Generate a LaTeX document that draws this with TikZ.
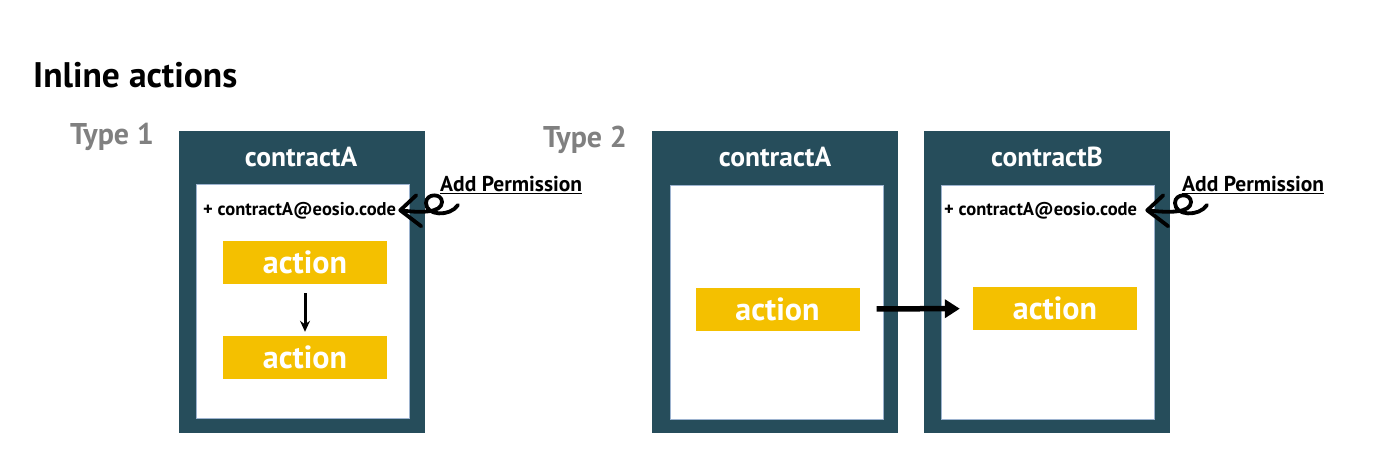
\documentclass[tikz,border=0pt]{standalone}
\usepackage{fontspec}
\setmainfont{PT Sans}
\usetikzlibrary{arrows.meta}
\definecolor{teal}{HTML}{264D5B}
\definecolor{gold}{HTML}{F4C000}
\definecolor{edgeblue}{HTML}{9DB3CF}
\definecolor{typegray}{HTML}{808080}
\begin{document}
\begin{tikzpicture}[x=1pt,y=-1pt,
  outerbox/.style={draw=none,fill=teal,minimum width=246pt,minimum height=302pt,inner sep=0pt},
  innerbox/.style={draw=edgeblue,line width=1pt,fill=white,minimum width=213pt,minimum height=234pt,inner sep=0pt},
  actbox/.style={fill=gold,text=white,font=\bfseries\fontsize{32}{32}\selectfont,minimum width=164pt,minimum height=43pt,inner sep=0pt},
  titletxt/.style={text=white,font=\bfseries\fontsize{27.5}{27.5}\selectfont,inner sep=0pt,anchor=base},
  permtxt/.style={font=\bfseries\fontsize{18.5}{18.5}\selectfont,inner sep=0pt,anchor=base west},
  addtxt/.style={font=\bfseries\fontsize{21.5}{21.5}\selectfont,inner sep=0pt,anchor=base west},
  typetxt/.style={text=typegray,font=\bfseries\fontsize{30}{30}\selectfont,inner sep=0pt,anchor=base west},
  curl/.style={line width=3.8pt,line cap=round,line join=round}
]
\useasboundingbox (0,0) rectangle (1400,469);
% heading
\node[font=\bfseries\fontsize{35.5}{35.5}\selectfont,inner sep=0pt,anchor=base west] (head) at (33,87) {Inline actions};
\node[typetxt] (type1) at (70,144) {Type 1};
\node[typetxt] (type2) at (543,147) {Type 2};
% Type 1
\node[outerbox] (o1) at (301.5,281.5) {};
\node[innerbox] (i1) at (303,301.5) {};
\node[titletxt] (t1) at (301,166) {contractA};
\node[permtxt] (p1) at (203,215) {+ contractA@eosio.code};
\node[actbox] (a1) at (305,262.5) {action};
\node[actbox] (a2) at (305,357.5) {action};
\draw[line width=3pt,-{Stealth[length=11pt,width=10pt]},shorten <=9pt,shorten >=4pt] (a1) -- (a2);
\node[addtxt] (ap1) at (440,191) {\underline{Add Permission}};
\coordinate (c1) at (458,205);
\draw[curl] (c1) .. controls (450,217) and (426,216) .. (426,203) .. controls (426,193) and (442,193) .. (442,202) .. controls (442,213) and (420,213) .. ([xshift=4pt]p1.east);
\draw[curl] ([xshift=4pt]p1.east) -- ++(16,-15);
\draw[curl] ([xshift=4pt]p1.east) -- ++(21,16);
% Type 2
\node[outerbox] (o2) at (775,282) {};
\node[innerbox] (i2) at (777,302) {};
\node[titletxt] (t2) at (775,166) {contractA};
\node[actbox] (a3) at (777.5,309) {action};
\node[outerbox] (o3) at (1047,282) {};
\node[innerbox] (i3) at (1048,302) {};
\node[titletxt] (t3) at (1047,166) {contractB};
\node[permtxt] (p2) at (944,215) {+ contractA@eosio.code};
\node[actbox] (a4) at (1055,308.5) {action};
\draw[line width=5.5pt,-{Triangle[length=15pt,width=18pt]},shorten <=17pt,shorten >=13pt] (a3) -- (a4);
\node[addtxt] (ap2) at (1182,191) {\underline{Add Permission}};
\coordinate (c2) at (1207,205);
\draw[curl] (c2) .. controls (1199,217) and (1175,216) .. (1175,203) .. controls (1175,193) and (1191,193) .. (1191,202) .. controls (1191,213) and (1169,213) .. ([xshift=10pt]p2.east);
\draw[curl] ([xshift=10pt]p2.east) -- ++(16,-15);
\draw[curl] ([xshift=10pt]p2.east) -- ++(21,16);
\end{tikzpicture}
\end{document}
